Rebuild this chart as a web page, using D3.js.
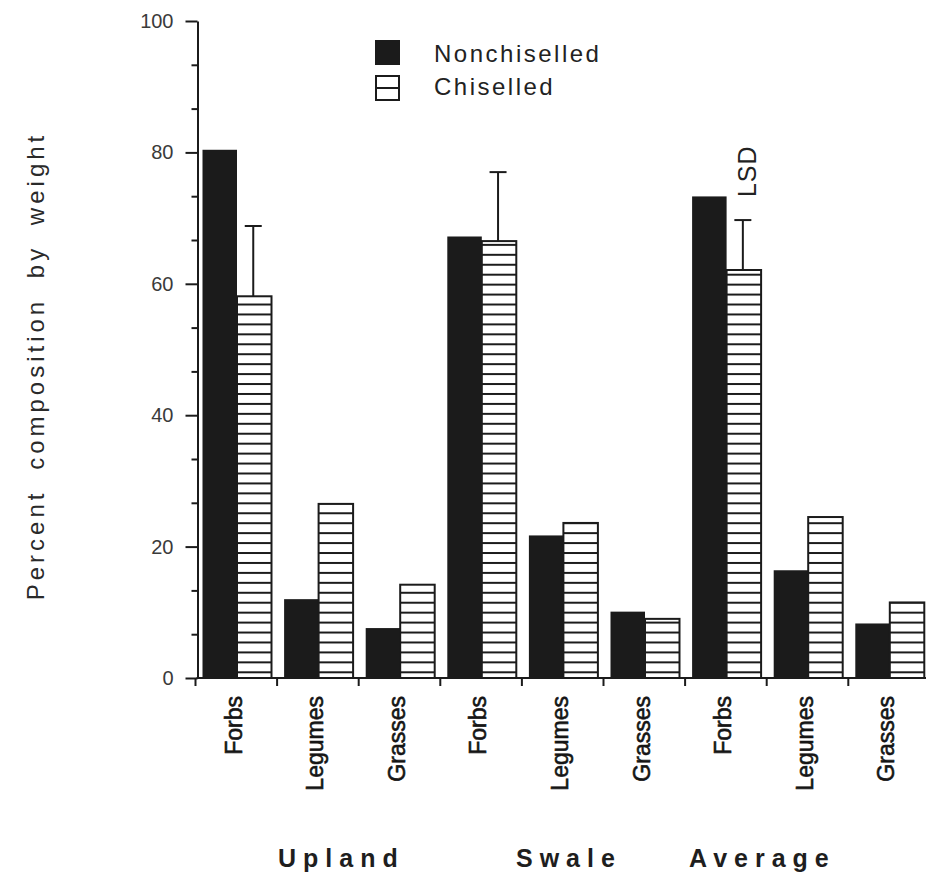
<!DOCTYPE html>
<html>
<head>
<meta charset="utf-8">
<script src="https://cdn.jsdelivr.net/npm/d3@7"></script>
<style>
  html, body { margin: 0; padding: 0; background: #ffffff; }
  svg { display: block; }
  text { font-family: "Liberation Sans", Arial, Helvetica, sans-serif; }
</style>
</head>
<body>
<svg id="chart" width="926" height="883"></svg>
<script>
// Botanical composition (% by weight) of forbs, legumes and grasses
const groups = ["Upland", "Swale", "Average"];
const plantTypes = ["Forbs", "Legumes", "Grasses"];
const treatments = ["Nonchiselled", "Chiselled"];
const nonchiselled = [80.4, 12.0, 7.6, 67.2, 21.7, 10.1, 73.3, 16.4, 8.3];
const chiselled = [58.1, 26.5, 14.2, 66.5, 23.6, 9.0, 62.1, 24.5, 11.5];
// LSD bar length on the forbs comparison of each site
const lsd = [10.7, 10.5, 7.6];
const yTicks = [0, 20, 40, 60, 80, 100];
const yLabel = "Percent composition by weight";

// ---- layout ----
const W = 926, H = 883;
const plotTop = 21, plotBottom = 678;
const axisX = 197.5;
const slotStart = 195.5, slotStep = 81.6;
const ink = "#1b1b1b";

const slots = [];
groups.forEach(g => plantTypes.forEach(t => slots.push(g + "|" + t)));
const rows = slots.map((s, i) => ({
  slot: s, group: s.split("|")[0], type: s.split("|")[1],
  values: [nonchiselled[i], chiselled[i]]
}));

const svg = d3.select("#chart");
svg.append("rect").attr("width", W).attr("height", H).attr("fill", "#ffffff");

const y = d3.scaleLinear().domain([0, 100]).range([plotBottom, plotTop]);
const x0 = d3.scaleBand().domain(slots)
  .range([slotStart, slotStart + slots.length * slotStep]).padding(0);
const x1 = d3.scaleBand().domain(treatments).range([7, 7 + 69]).padding(0);

// horizontal hatching shared by all chiselled bars
const hatchStep = 9.94;
const defs = svg.append("defs");
const pat = defs.append("pattern").attr("id", "hatch")
  .attr("patternUnits", "userSpaceOnUse")
  .attr("x", 0).attr("y", 671.3)
  .attr("width", 40).attr("height", hatchStep);
pat.append("rect").attr("width", 40).attr("height", hatchStep).attr("fill", "#ffffff");
pat.append("rect").attr("width", 40).attr("height", 2).attr("fill", ink);

// ---- bars ----
const barG = svg.append("g");
const slotG = barG.selectAll("g.slot").data(rows).join("g")
  .attr("class", "slot")
  .attr("transform", d => `translate(${x0(d.slot)},0)`);

slotG.selectAll("rect").data(d => d.values.map((v, k) => ({ v, t: treatments[k] })))
  .join("rect")
  .attr("x", d => x1(d.t))
  .attr("y", d => y(d.v))
  .attr("width", x1.bandwidth())
  .attr("height", d => y(0) - y(d.v))
  .attr("fill", d => d.t === "Chiselled" ? "url(#hatch)" : ink)
  .attr("stroke", ink)
  .attr("stroke-width", d => d.t === "Chiselled" ? 2 : 0);

// ---- LSD bars on the forbs chiselled bars ----
const lsdRows = groups.map((g, i) => {
  const idx = slots.indexOf(g + "|Forbs");
  return { slot: slots[idx], base: chiselled[idx], len: lsd[i] };
});
const errG = svg.append("g").attr("stroke", ink).attr("stroke-width", 2);
const lsdX = d => x0(d.slot) + x1("Chiselled") + x1.bandwidth() / 2 - 1;
lsdRows.forEach(d => {
  const cx = lsdX(d);
  errG.append("line").attr("x1", cx).attr("x2", cx)
    .attr("y1", y(d.base)).attr("y2", y(d.base + d.len));
  errG.append("line").attr("x1", cx - 8.5).attr("x2", cx + 8.5)
    .attr("y1", y(d.base + d.len)).attr("y2", y(d.base + d.len));
});
// "LSD" tag over the average comparison
{
  const d = lsdRows[2];
  svg.append("text")
    .attr("transform", `translate(${lsdX(d) + 4},${y(d.base + d.len) - 23}) rotate(-90)`)
    .attr("dy", "0.36em")
    .attr("font-size", 25).attr("letter-spacing", 1)
    .attr("fill", "#222")
    .text("LSD");
}

// ---- y axis ----
const yAxis = svg.append("g").attr("transform", `translate(${axisX},0)`)
  .call(d3.axisLeft(y).tickValues(yTicks).tickSize(12).tickSizeOuter(0)
    .tickFormat(d3.format("d")).tickPadding(12));
yAxis.select(".domain").attr("stroke", ink).attr("stroke-width", 2);
yAxis.selectAll(".tick line").attr("stroke", ink).attr("stroke-width", 2);
yAxis.selectAll(".tick text")
  .attr("font-size", 20).attr("fill", "#3a3a3a")
  .style("font-family", "'Liberation Sans', Arial, sans-serif");

const minorTicks = d3.range(0, 100.001, 20 / 3).filter(v => Math.abs(v / 20 - Math.round(v / 20)) > 0.01);
const yMinor = svg.append("g").attr("transform", `translate(${axisX},0)`)
  .call(d3.axisLeft(y).tickValues(minorTicks).tickSize(6).tickSizeOuter(0).tickFormat(""));
yMinor.select(".domain").remove();
yMinor.selectAll(".tick line").attr("stroke", ink).attr("stroke-width", 2);

svg.append("text")
  .attr("transform", `translate(44,366) rotate(-90)`)
  .attr("text-anchor", "middle")
  .attr("font-size", 24)
  .attr("letter-spacing", 4)
  .attr("word-spacing", 9)
  .attr("fill", "#2a2a2a")
  .text(yLabel);

// ---- x axis ----
const xAxis = svg.append("g").attr("transform", `translate(0,${plotBottom})`);
xAxis.append("line").attr("x1", axisX - 1).attr("x2", W)
  .attr("stroke", ink).attr("stroke-width", 2);
xAxis.selectAll("line.tk").data(slots).join("line").attr("class", "tk")
  .attr("x1", d => x0(d)).attr("x2", d => x0(d))
  .attr("y1", 0).attr("y2", 8)
  .attr("stroke", ink).attr("stroke-width", 2);

// category names, rotated, reading upward
svg.append("g").selectAll("text").data(rows).join("text")
  .attr("transform", d => `translate(${x0(d.slot) + x0.bandwidth() / 2 - 3},${plotBottom + 18}) rotate(-90)`)
  .attr("text-anchor", "end")
  .attr("dy", "0.36em")
  .attr("font-size", 23)
  .attr("fill", "#151515").attr("stroke", "#151515").attr("stroke-width", 0.6)
  .text(d => d.type);

// site names under each trio of categories
const groupLeft = { Upland: 278, Swale: 516, Average: 689 };
svg.append("g").selectAll("text").data(groups).join("text")
  .attr("x", g => groupLeft[g])
  .attr("y", 867)
  .attr("font-size", 25).attr("font-weight", "bold")
  .attr("letter-spacing", 7)
  .attr("fill", "#1e1e1e")
  .text(g => g);

// ---- legend ----
const legend = svg.append("g").attr("transform", "translate(375,40)");
legend.append("rect").attr("x", 0).attr("y", 0).attr("width", 25).attr("height", 25).attr("fill", ink);
const hb = legend.append("g").attr("transform", "translate(0,35)");
hb.append("rect").attr("x", 1).attr("y", 1).attr("width", 23).attr("height", 24)
  .attr("fill", "#fff").attr("stroke", ink).attr("stroke-width", 2);
hb.append("line").attr("x1", 1).attr("x2", 24).attr("y1", 13).attr("y2", 13)
  .attr("stroke", ink).attr("stroke-width", 2);
legend.selectAll("text.lg").data(treatments).join("text").attr("class", "lg")
  .attr("x", 59).attr("y", (d, i) => 22 + i * 33)
  .attr("font-size", 24).attr("letter-spacing", 2.5)
  .attr("fill", "#222")
  .text(d => d);
</script>
</body>
</html>
